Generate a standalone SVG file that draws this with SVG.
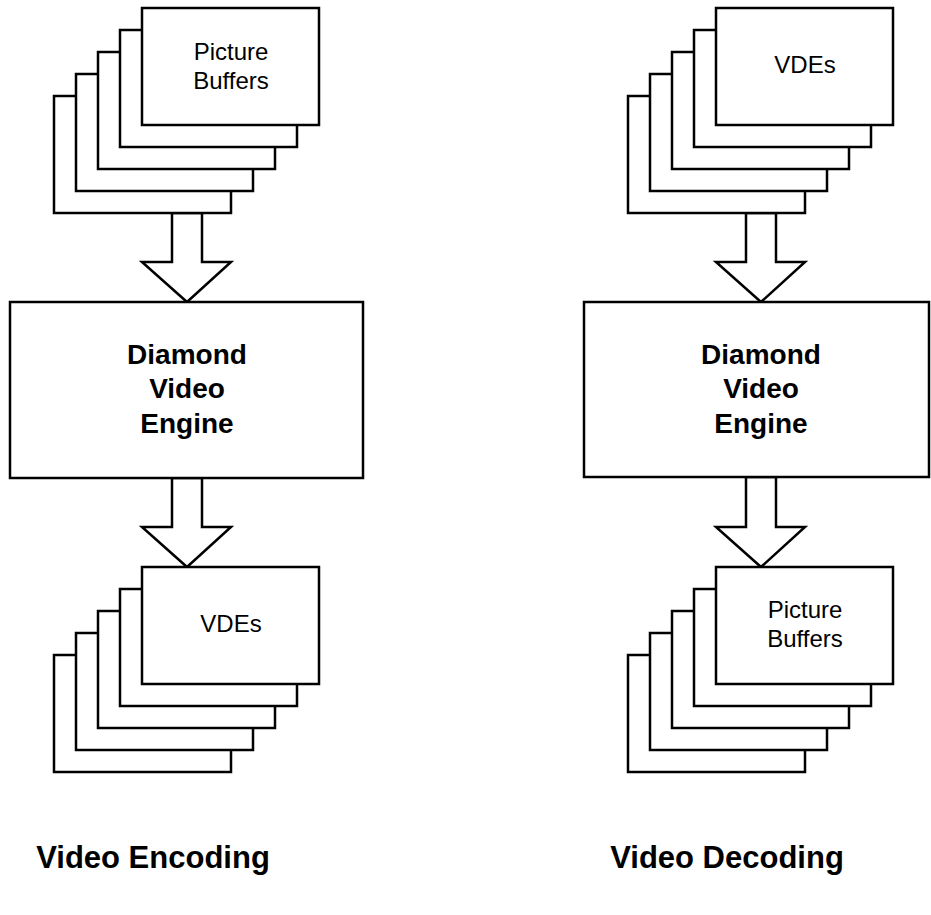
<svg xmlns="http://www.w3.org/2000/svg" width="931" height="915" viewBox="0 0 931 915">
<style>
.s{fill:#fff;stroke:#000;stroke-width:2.5}
.t{font-family:"Liberation Sans",Arial,sans-serif;font-size:24px;text-anchor:middle;fill:#000}
.b{font-family:"Liberation Sans",Arial,sans-serif;font-size:28px;font-weight:bold;text-anchor:middle;fill:#000}
.c{font-family:"Liberation Sans",Arial,sans-serif;font-size:31px;font-weight:bold;text-anchor:middle;fill:#000}
</style>
<defs>
<g id="stack">
<rect class="s" x="0" y="88" width="177" height="117"/>
<rect class="s" x="22" y="66" width="177" height="117"/>
<rect class="s" x="44" y="44" width="177" height="117"/>
<rect class="s" x="66" y="22" width="177" height="117"/>
<rect class="s" x="88" y="0" width="177" height="117"/>
</g>
</defs>
<g id="connectors">
<polygon class="s" points="172,213 172,262 142,262 187,302 231,262 202,262 202,213"/>
<polygon class="s" points="172,478 172,527 142,527 187,567 231,527 202,527 202,478"/>
<polygon class="s" points="746,213 746,262 716,262 761,302 805,262 776,262 776,213"/>
<polygon class="s" points="746,477 746,527 716,527 761,567 805,527 776,527 776,477"/>
</g>
<g id="enc-input">
<use href="#stack" x="54" y="8"/>
<text class="t" x="231" y="60">Picture</text>
<text class="t" x="231" y="89">Buffers</text>
</g>
<g id="enc-engine">
<rect class="s" x="10" y="302" width="353" height="176"/>
<text class="b" x="187" y="364">Diamond</text>
<text class="b" x="187" y="398">Video</text>
<text class="b" x="187" y="433">Engine</text>
</g>
<g id="enc-output">
<use href="#stack" x="54" y="567"/>
<text class="t" x="231" y="632">VDEs</text>
</g>
<g id="dec-input">
<use href="#stack" x="628" y="8"/>
<text class="t" x="805" y="73">VDEs</text>
</g>
<g id="dec-engine">
<rect class="s" x="584" y="302" width="345" height="175"/>
<text class="b" x="761" y="364">Diamond</text>
<text class="b" x="761" y="398">Video</text>
<text class="b" x="761" y="433">Engine</text>
</g>
<g id="dec-output">
<use href="#stack" x="628" y="567"/>
<text class="t" x="805" y="618">Picture</text>
<text class="t" x="805" y="647">Buffers</text>
</g>
<g id="captions">
<text class="c" x="153" y="868">Video Encoding</text>
<text class="c" x="727" y="868">Video Decoding</text>
</g>
</svg>
